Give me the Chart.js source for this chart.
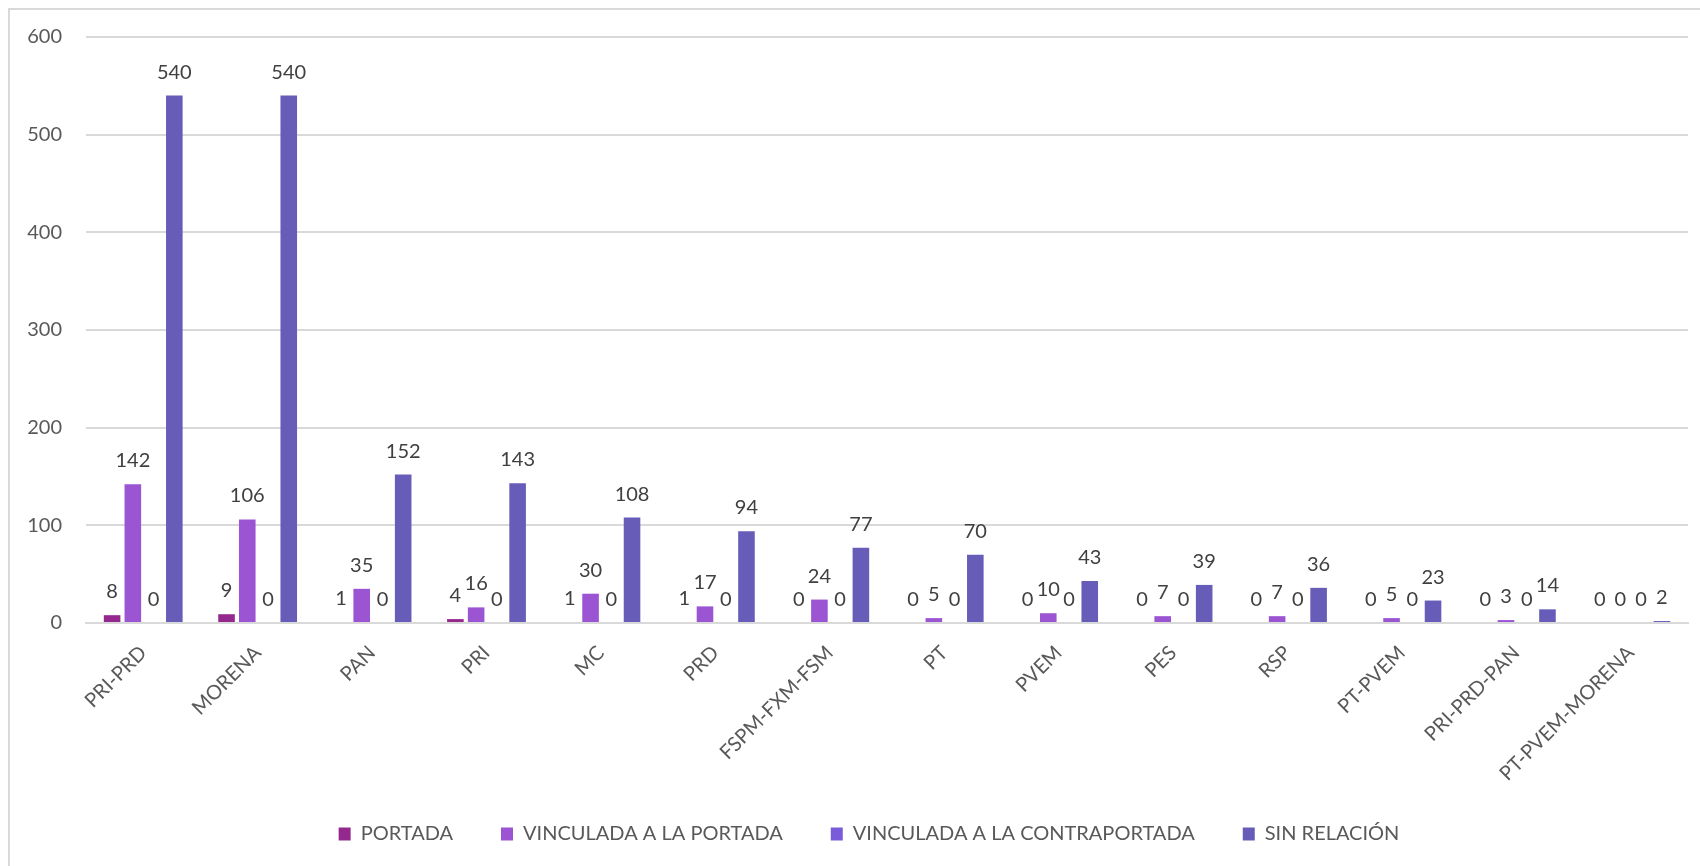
<!DOCTYPE html>
<html>
<head>
<meta charset="utf-8">
<script src="https://cdn.jsdelivr.net/npm/chart.js@4.4.1/dist/chart.umd.min.js"></script>
<style>
  html, body { margin: 0; padding: 0; background: #fff; }
  #wrap { position: relative; width: 1700px; height: 866px; overflow: hidden; }
  #frame { position: absolute; left: 8px; top: 8px; width: 1720px; height: 900px;
           border-left: 2px solid #d9d9d9; border-top: 2px solid #d9d9d9; }
  canvas { position: absolute; left: 0; top: 0; }
</style>
</head>
<body>
<div id="wrap">
  <div id="frame"></div>
  <canvas id="chart" width="1700" height="866"></canvas>
</div>
<script>
// categorías (partidos)
const partidos = ["PRI-PRD", "MORENA", "PAN", "PRI", "MC", "PRD", "FSPM-FXM-FSM", "PT",
                  "PVEM", "PES", "RSP", "PT-PVEM", "PRI-PRD-PAN", "PT-PVEM-MORENA"];

// series
const portada        = [8, 9, 1, 4, 1, 1, 0, 0, 0, 0, 0, 0, 0, 0];
const vincPortada    = [142, 106, 35, 16, 30, 17, 24, 5, 10, 7, 7, 5, 3, 0];
const vincContra     = [0, 0, 0, 0, 0, 0, 0, 0, 0, 0, 0, 0, 0, 0];
const sinRelacion    = [540, 540, 152, 143, 108, 94, 77, 70, 43, 39, 36, 23, 14, 2];

const seriesNames = ["PORTADA", "VINCULADA A LA PORTADA", "VINCULADA A LA CONTRAPORTADA", "SIN RELACIÓN"];
const seriesColors = ["#94288f", "#9b55d3", "#7a5bd9", "#675db8"];

// eje Y
const yTicks = [0, 100, 200, 300, 400, 500, 600];

const FONT = "Lato, 'Open Sans', sans-serif";

// etiquetas de datos encima de cada barra
const etiquetas = {
  id: "etiquetas",
  afterDatasetsDraw(chart) {
    const ctx = chart.ctx;
    ctx.save();
    ctx.font = "20px " + FONT;
    ctx.fillStyle = "#404040";
    ctx.textAlign = "center";
    ctx.textBaseline = "alphabetic";
    chart.data.datasets.forEach((ds, i) => {
      const meta = chart.getDatasetMeta(i);
      meta.data.forEach((bar, j) => {
        ctx.fillText(String(ds.data[j]), bar.x, bar.y - 17);
      });
    });
    ctx.restore();
  }
};

// las etiquetas de los ejes no se recortan a la caja del eje
function sinRecorte(scale) {
  scale._computeLabelArea = function() { return undefined; };
}

const datos = [portada, vincPortada, vincContra, sinRelacion];

new Chart(document.getElementById("chart"), {
  type: "bar",
  data: {
    labels: partidos,
    datasets: datos.map((d, i) => ({
      label: seriesNames[i],
      data: d,
      backgroundColor: seriesColors[i],
      borderWidth: 0,
      categoryPercentage: 0.725,
      barPercentage: 0.8
    }))
  },
  options: {
    responsive: false,
    animation: false,
    layout: { padding: { top: 37, left: 50, right: 12, bottom: 12 } },
    plugins: {
      tooltip: { enabled: false },
      legend: {
        position: "bottom",
        labels: {
          boxWidth: 12,
          boxHeight: 13,
          padding: 48,
          color: "#595959",
          font: { family: FONT, size: 20 }
        }
      }
    },
    scales: {
      y: {
        min: 0,
        max: 600,
        afterBuildTicks(scale) { scale.ticks = yTicks.map(v => ({ value: v })); },
        afterFit(scale) { scale.width = 36; sinRecorte(scale); },
        ticks: { color: "#595959", padding: 24, font: { family: FONT, size: 20 } },
        grid: { color: "#d9d9d9", lineWidth: 2, drawTicks: false },
        border: { display: false }
      },
      x: {
        afterFit(scale) { scale.height = 153; sinRecorte(scale); },
        ticks: {
          minRotation: 45, maxRotation: 45, autoSkip: false,
          color: "#595959", padding: 10, font: { family: FONT, size: 20 }
        },
        grid: { display: false },
        border: { color: "#d9d9d9", width: 2 }
      }
    }
  },
  plugins: [etiquetas]
});
</script>
</body>
</html>
